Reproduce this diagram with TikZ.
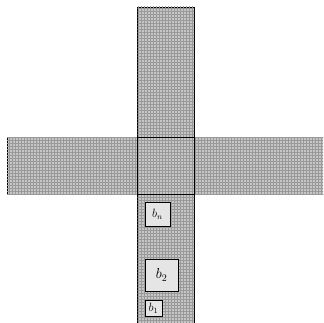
\documentclass[tikz,border=0pt]{standalone}
\usetikzlibrary{patterns}
\tikzset{
  bar/.style={draw=black, line width=0.8pt, fill=gray!45, postaction={pattern=grid, pattern color=gray!80}},
  blk/.style={draw=black, line width=0.5pt, fill=gray!20},
  lbl/.style={inner sep=0pt}
}
\begin{document}
\begin{tikzpicture}[x=1pt,y=-1pt]
\useasboundingbox (0,0) rectangle (323,323);
\begin{scope}
\clip (0,0) rectangle (323,323);
\draw[bar] (137.5,7) rectangle (194,330);
\draw[bar] (7,137.5) rectangle (330,194);
\draw[line width=0.8pt] (137.5,137.5) rectangle (194,194);
\end{scope}
\draw[blk] (145,202) rectangle (170,226);
\node[lbl, font=\fontsize{12}{14}\selectfont] (bn) at (157.5,214) {$b_n$};
\draw[blk] (145,259) rectangle (178,291);
\node[lbl, font=\fontsize{14}{16}\selectfont] (b2) at (161.5,275) {$b_2$};
\draw[blk] (145,300) rectangle (162,316);
\node[lbl, font=\fontsize{11.5}{13}\selectfont] (b1) at (153.5,308) {$b_1$};
\end{tikzpicture}
\end{document}
